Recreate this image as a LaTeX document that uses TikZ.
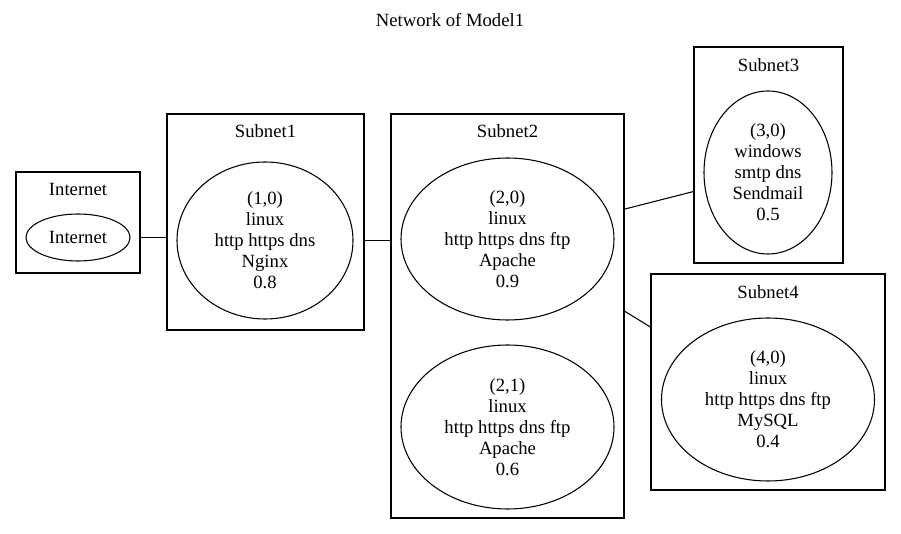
\documentclass[tikz,border=0pt]{standalone}
\usepackage{fontspec}
\setmainfont{Liberation Serif}
\usetikzlibrary{calc,shapes.geometric}
\tikzset{
	cluster/.style={draw, rectangle, inner sep=0pt, line width=0.8pt},
	host/.style={draw, ellipse, inner sep=0pt, align=center, line width=0.8pt},
	lbl/.style={inner sep=0pt},
	link/.style={line width=0.8pt},
}
\begin{document}
\begin{tikzpicture}[x=0.75pt, y=-0.75pt, font=\fontsize{14}{15.75}\selectfont]
	\useasboundingbox (0,0) rectangle (901,534);
	\node[lbl] (title) at (450,20) {Network of Model1};
	% clusters
	\node[cluster, minimum width=93pt, minimum height=75.75pt] (inetbox) at (78,222.5) {};
	\node[cluster, minimum width=147.75pt, minimum height=162pt] (sub1box) at (265.5,222) {};
	\node[cluster, minimum width=174.75pt, minimum height=303pt] (sub2box) at (507.5,316) {};
	\node[cluster, minimum width=111.75pt, minimum height=162pt] (sub3box) at (768.5,155) {};
	\node[cluster, minimum width=175.5pt, minimum height=162pt] (sub4box) at (768,382) {};
	\node[lbl] (inetlbl) at (78,189) {Internet};
	\node[lbl] (sub1lbl) at (265.5,131) {Subnet1};
	\node[lbl] (sub2lbl) at (507.5,131) {Subnet2};
	\node[lbl] (sub3lbl) at (768.5,65) {Subnet3};
	\node[lbl] (sub4lbl) at (768,292) {Subnet4};
	% hosts
	\node[host, minimum width=78pt, minimum height=35.25pt] (inet) at (78,237.5) {Internet};
	\node[host, minimum width=132pt, minimum height=117.75pt] (h10) at (265,240.5) {(1,0)\\linux\\http https dns\\Nginx\\0.8};
	\node[host, minimum width=159.75pt, minimum height=121.5pt] (h20) at (507.5,239) {(2,0)\\linux\\http https dns ftp\\Apache\\0.9};
	\node[host, minimum width=159.75pt, minimum height=123pt] (h21) at (507.5,427) {(2,1)\\linux\\http https dns ftp\\Apache\\0.6};
	\node[host, minimum width=96pt, minimum height=122.25pt] (h30) at (768,172.5) {(3,0)\\windows\\smtp dns\\Sendmail\\0.5};
	\node[host, minimum width=159.75pt, minimum height=122.25pt] (h40) at (768,399.5) {(4,0)\\linux\\http https dns ftp\\MySQL\\0.4};
	% links between subnets
	\draw[link] (inetbox.east |- inet) -- (sub1box.west |- inet);
	\draw[link] (sub1box.east |- h10) -- (sub2box.west |- h10);
	\draw[link] let \p1=(h20), \p2=(h30), \p3=(sub2box.east), \p4=(sub3box.west) in
		(\x3,{\y1+(\x3-\x1)/(\x2-\x1)*(\y2-\y1)}) -- (\x4,{\y1+(\x4-\x1)/(\x2-\x1)*(\y2-\y1)});
	\draw[link] let \p1=(h20), \p2=(h40), \p3=(sub2box.east), \p4=(sub4box.west) in
		(\x3,{\y1+(\x3-\x1)/(\x2-\x1)*(\y2-\y1)}) -- (\x4,{\y1+(\x4-\x1)/(\x2-\x1)*(\y2-\y1)});
\end{tikzpicture}
\end{document}
